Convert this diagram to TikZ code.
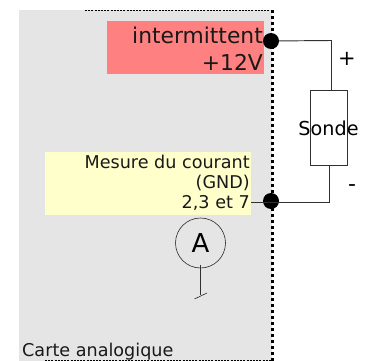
\documentclass[tikz,border=0pt]{standalone}
\usepackage{fontspec}
\setmainfont{DejaVu Sans}
\definecolor{panelgray}{HTML}{E5E5E5}
\definecolor{redbox}{HTML}{FF8080}
\definecolor{yellowbox}{HTML}{FFFFCC}
\definecolor{wire}{HTML}{303030}
\tikzset{
  x=1pt,y=-1pt,
  wireline/.style={draw=wire,line width=0.95pt},
  dotnode/.style={circle,fill=black,inner sep=0pt,minimum size=16pt},
  lbl/.style={inner sep=0pt,align=right,text=black!90},
}
\begin{document}
\begin{tikzpicture}
\useasboundingbox (0,0) rectangle (380,361);
\fill[panelgray] (19,10) rectangle (272,361);
\draw[black,line width=0.7pt,dash pattern=on 2pt off 1.2pt] (85,10.5) -- (272,10.5);
\draw[black,line width=0.7pt,dash pattern=on 2pt off 1.2pt] (45,360.3) -- (272,360.3);
\draw[black,line width=2.4pt,dash pattern=on 3pt off 3pt] (272.5,10) -- (272.5,361);
\fill[redbox] (107,21) rectangle (263.5,74);
\fill[yellowbox] (45,152) rectangle (251,215);
\node[lbl,anchor=east,font=\fontsize{21.8}{27.5}\selectfont] (rl) at (263,48.5) {intermittent\\+12V};
\node[lbl,anchor=east,font=\fontsize{17.6}{20}\selectfont] (yl) at (250,182.5) {Mesure du courant\\(GND)\\2,3 et 7};
\node[dotnode] (p1) at (271,41) {};
\node[dotnode] (p2) at (271,201) {};
\node[draw=wire,line width=0.95pt,minimum width=37pt,minimum height=75pt,inner sep=0pt] (s) at (328.5,127.5) {};
\node[inner sep=0pt,font=\fontsize{19.2}{22}\selectfont] (st) at (328.5,128) {Sonde};
\coordinate (c1) at (331.5,40.5);
\coordinate (st1) at (331.5,90);
\coordinate (c2) at (329,202);
\coordinate (st2) at (329,165);
\coordinate (y2) at (251,202);
\draw[wireline] (p1) -- (c1) -- (st1);
\draw[wireline] (st2) -- (c2) -- (y2);
\node[inner sep=0pt,font=\fontsize{21}{24}\selectfont] (plus) at (347,59) {+};
\node[inner sep=0pt,font=\fontsize{22}{24}\selectfont] (minus) at (352,188) {-};
\node[circle,draw=black!85,line width=0.6pt,minimum size=50pt,inner sep=0pt,font=\fontsize{26}{30}\selectfont] (A) at (200.5,243) {A};
\coordinate (g) at (200.5,294.5);
\coordinate (t1) at (194.5,299);
\coordinate (t2) at (207,293);
\draw[wireline] (200.5,265) -- (g);
\draw[black!85,line width=0.6pt] (t1) -- (t2);
\node[inner sep=0pt,anchor=base west,font=\fontsize{17.6}{20}\selectfont,text=black!90] (ca) at (22,356) {Carte analogique};
\end{tikzpicture}
\end{document}
